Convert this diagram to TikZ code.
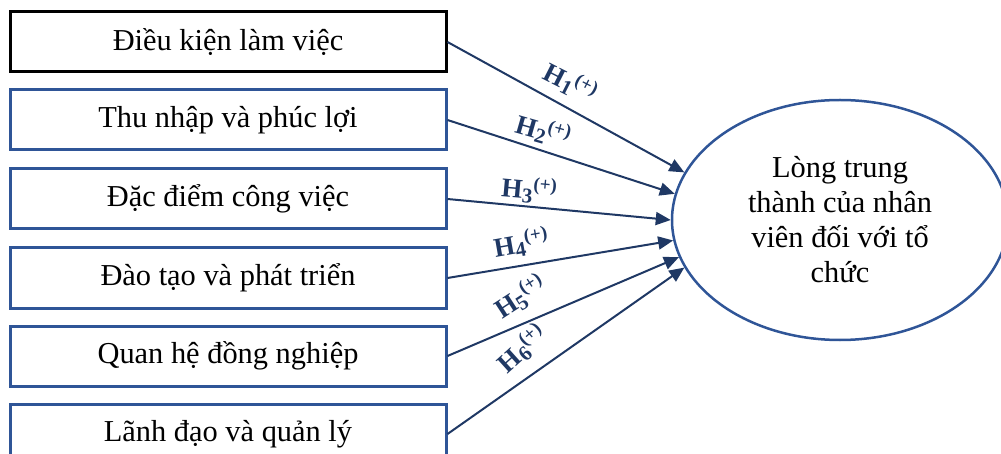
\documentclass[tikz,border=0pt]{standalone}
\usepackage{fontspec}
\setmainfont{Liberation Serif}
\usetikzlibrary{shapes.geometric,arrows.meta}
\definecolor{boxblue}{HTML}{2F5597}
\definecolor{navy}{HTML}{1F3864}
\newcommand{\hlab}[1]{H\raisebox{-0.3ex}{\fontsize{10.5}{11}\selectfont #1}\raisebox{0.75ex}{\fontsize{9.5}{10}\selectfont (+)}}
\begin{document}
\begin{tikzpicture}[x=0.5pt,y=-0.5pt,
  factor/.style={draw=boxblue,line width=1.5pt,minimum width=218pt,minimum height=30pt,inner sep=0pt,font=\fontsize{15.2}{18}\selectfont},
  outcome/.style={ellipse,draw=boxblue,line width=1.25pt,minimum width=168pt,minimum height=120pt,inner sep=0pt,align=center,font=\fontsize{15.2}{17.5}\selectfont},
  arr/.style={draw=navy,line width=1pt,-{Triangle[length=7.5pt,width=6.5pt]}},
  hyp/.style={text=navy,font=\fontsize{13.5}{16}\selectfont\bfseries,inner sep=0pt}]
\useasboundingbox (0,0) rectangle (1001,454);
\node[factor,draw=black] (f1) at (228,42) {Điều kiện làm việc};
\node[factor] (f2) at (228,120) {Thu nhập và phúc lợi};
\node[factor] (f3) at (228,199) {Đặc điểm công việc};
\node[factor] (f4) at (228,278) {Đào tạo và phát triển};
\node[factor] (f5) at (228,356) {Quan hệ đồng nghiệp};
\node[factor] (f6) at (228,434) {Lãnh đạo và quản lý};
\node[outcome] (y) at (840,220) {Lòng trung\\thành của nhân\\viên đối với tổ\\chức};
\draw[arr] (f1.east) -- (y.163);
\draw[arr] (f2.east) -- (y.171);
\draw[arr] (f3.east) -- (y.180);
\draw[arr] (f4.east) -- (y.187);
\draw[arr] (f5.east) -- (y.193);
\draw[arr] (f6.east) -- (y.197);
\node[hyp,rotate=-27] (h1) at (570,83) {\hlab{1}};
\node[hyp,rotate=-16] (h2) at (543,131) {\hlab{2}};
\node[hyp,rotate=-5] (h3) at (529,190) {\hlab{3}};
\node[hyp,rotate=10] (h4) at (521,243) {\hlab{4}};
\node[hyp,rotate=33] (h5) at (520,297) {\hlab{5}};
\node[hyp,rotate=42] (h6) at (522,349) {\hlab{6}};
\end{tikzpicture}
\end{document}
